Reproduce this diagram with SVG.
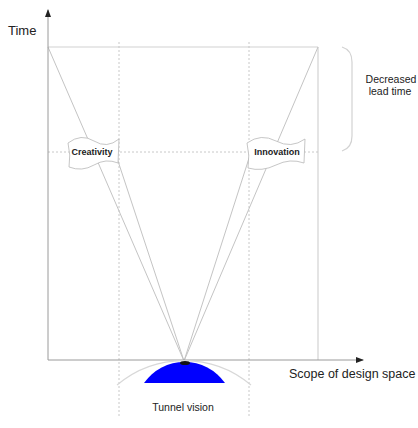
<svg xmlns="http://www.w3.org/2000/svg" width="418" height="428" viewBox="0 0 418 428">
<style>
.axis{stroke:#9a9a9a;stroke-width:1;fill:none}
.frame{stroke:#d2d2d2;stroke-width:1.2;fill:none}
.dot{stroke:#c8c8c8;stroke-width:1;stroke-dasharray:2 2;fill:none}
.ray{stroke:#c4c4c4;stroke-width:1;fill:none}
.flag{fill:#fff;stroke:#b8b8b8;stroke-width:0.8}
.lbl{font-family:"Liberation Sans",Arial,sans-serif;fill:#222}
.flagt{font-family:"Liberation Sans",Arial,sans-serif;font-weight:bold;font-size:9px;fill:#222;text-anchor:middle}
</style>
<defs>
<marker id="ah" markerWidth="8" markerHeight="6" refX="7" refY="3" orient="auto" markerUnits="userSpaceOnUse">
<path d="M0,0 L8,3 L0,6 Z" fill="#222"/>
</marker>
</defs>
<g id="connectors">
<line class="frame" x1="48" y1="47" x2="318" y2="47"/>
<line class="frame" x1="318" y1="47" x2="318" y2="360"/>
<line class="dot" x1="119" y1="42" x2="119" y2="418"/>
<line class="dot" x1="249" y1="42" x2="249" y2="418"/>
<line class="dot" x1="48" y1="152" x2="318" y2="152"/>
<line class="ray" x1="48" y1="47" x2="184" y2="361"/>
<line class="ray" x1="318" y1="47" x2="184" y2="361"/>
<line class="ray" x1="115" y1="152" x2="184" y2="361"/>
<line class="ray" x1="251" y1="152" x2="184" y2="361"/>
<path d="M342,47 Q352,50 352,62 L352,136 Q352,148 342,151" fill="none" stroke="#d2d2d2" stroke-width="1.2"/>
<line class="axis" x1="48" y1="360" x2="48" y2="10" marker-end="url(#ah)"/>
<line class="axis" x1="48" y1="360" x2="363" y2="360" marker-end="url(#ah)"/>
</g>
<g id="tunnel">
<path d="M117,385 A104,104 0 0 1 251,385" fill="none" stroke="#d8d8d8" stroke-width="1.2"/>
<path d="M144,383 A49.5,49.5 0 0 1 225,383 Z" fill="#0000ff"/>
<ellipse cx="185" cy="363" rx="5" ry="2" fill="#111"/>
<text class="lbl" x="183" y="411" font-size="10.5" text-anchor="middle">Tunnel vision</text>
</g>
<g id="creativity">
<path class="flag" d="M68,143 Q81,133 94,141 T119,139 L118,163 Q106,158 94,165 T69,167 Q71,155 68,143 Z"/>
<text class="flagt" x="92" y="155">Creativity</text>
</g>
<g id="innovation">
<path class="flag" d="M247,143 Q261,133 276,141 T305,139 L304,163 Q290,158 276,165 T248,168 Q250,155 247,143 Z"/>
<text class="flagt" x="277" y="155">Innovation</text>
</g>
<g id="labels">
<text class="lbl" x="8" y="35" font-size="13">Time</text>
<text class="lbl" x="289" y="378" font-size="12.5">Scope of design space</text>
<text class="lbl" x="391" y="83" font-size="10.5" text-anchor="middle">Decreased</text>
<text class="lbl" x="390" y="95" font-size="10.5" text-anchor="middle">lead time</text>
</g>
</svg>
